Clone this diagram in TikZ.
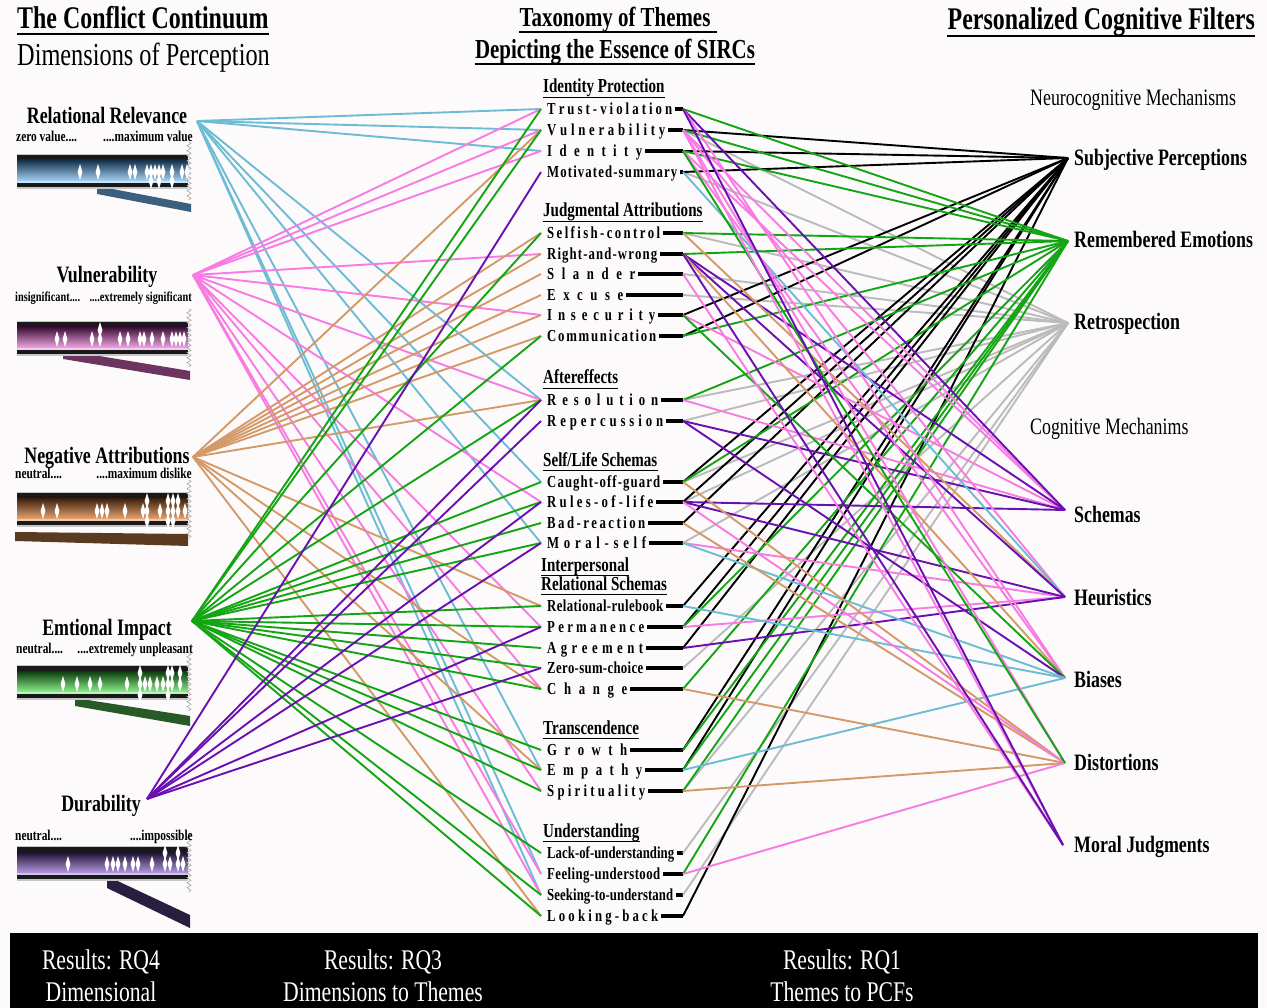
\documentclass[tikz,border=0pt]{standalone}
\usepackage{fontspec}
\setmainfont{Liberation Serif}
\newfontfamily\cond[FakeStretch=0.76]{Liberation Serif}
\usetikzlibrary{decorations.pathmorphing}
\definecolor{bg}{HTML}{FDFAFB}
\definecolor{cRR}{HTML}{6CBCD4}
\definecolor{cVU}{HTML}{F77BE3}
\definecolor{cNA}{HTML}{D39A68}
\definecolor{cEI}{HTML}{14A514}
\definecolor{cDU}{HTML}{6A10B0}
\definecolor{cGY}{HTML}{BBBBBB}
\definecolor{dRRc}{HTML}{14304A}\definecolor{lRRc}{HTML}{A6D2F4}\definecolor{sRRc}{HTML}{3B5F7C}
\definecolor{dVUc}{HTML}{3A0E34}\definecolor{lVUc}{HTML}{F2A6E6}\definecolor{sVUc}{HTML}{6B3560}
\definecolor{dNAc}{HTML}{3A1E0C}\definecolor{lNAc}{HTML}{E8A470}\definecolor{sNAc}{HTML}{5B3A22}
\definecolor{dEIc}{HTML}{0C3A0C}\definecolor{lEIc}{HTML}{8CF08C}\definecolor{sEIc}{HTML}{285A28}
\definecolor{dDUc}{HTML}{1C1030}\definecolor{lDUc}{HTML}{B49AE0}\definecolor{sDUc}{HTML}{2A1E40}
\makeatletter
\def\spr@ad#1{\ifx\relax#1\else#1\hfil\expandafter\spr@ad\fi}
\newcommand\spreadw[2]{\hbox to #1{\expandafter\spr@ad#2\relax\unskip}}
\makeatother
\newcommand\dmd[2]{\fill[white] (#1,#2-8) -- (#1+2.4,#2) -- (#1,#2+8) -- (#1-2.4,#2) -- cycle;}
\newcommand\gaugebar[3]{%
  \fill[gray!45] (17,#1) rectangle (188,#1+35);
  \fill[black!90] (17,#1+1) rectangle (188,#1+6);
  \shade[top color=#2, bottom color=#3] (17,#1+6) rectangle (188,#1+27);
  \fill[#3!60!white] (17,#1+27) rectangle (188,#1+29);
  \fill[black!90] (17,#1+29) rectangle (188,#1+33);
  \draw[zz] (189,#1-12) -- (189,#1+46);
}
\newcommand\hdr[4]{\node[hdr] (#1) at (#2,#3) {#4};
  \draw[line width=1.6pt] ([yshift=-4.5pt]#1.base west) -- ([yshift=-4.5pt]#1.base east);}
\tikzset{
  edge/.style={line width=1.9pt},
  eRR/.style={edge,draw=cRR}, eVU/.style={edge,draw=cVU}, eNA/.style={edge,draw=cNA},
  eEI/.style={edge,draw=cEI}, eDU/.style={edge,draw=cDU}, eGY/.style={edge,draw=cGY},
  eBK/.style={edge,draw=black},
  dashbar/.style={line width=3.2pt},
  zz/.style={draw=gray!70, line width=0.6pt, decorate, decoration={zigzag,segment length=5pt,amplitude=2pt}},
  theme/.style={font=\cond\bfseries\fontsize{16.8}{19}\selectfont, inner sep=0pt, anchor=base west},
  hdr/.style={font=\cond\bfseries\fontsize{19.8}{22}\selectfont, inner sep=0pt, anchor=base west},
  dimlab/.style={font=\cond\bfseries\fontsize{23.5}{26}\selectfont, inner sep=0pt, anchor=base},
  scl/.style={font=\cond\bfseries\fontsize{15}{17}\selectfont, inner sep=0pt},
  scls/.style={font=\cond\bfseries\fontsize{13.6}{15}\selectfont, inner sep=0pt},
  pcf/.style={font=\cond\bfseries\fontsize{23.5}{26}\selectfont, inner sep=0pt, anchor=base west},
  ttl/.style={font=\cond\bfseries\fontsize{31.5}{34}\selectfont, inner sep=0pt},
  ttlr/.style={font=\cond\fontsize{32}{34}\selectfont, inner sep=0pt},
  mid/.style={font=\cond\bfseries\fontsize{27.5}{30}\selectfont, inner sep=0pt, anchor=base},
  sub/.style={font=\cond\fontsize{23.5}{26}\selectfont, inner sep=0pt, anchor=base west},
  bot/.style={font=\cond\fontsize{28.5}{30}\selectfont, text=white, inner sep=0pt, anchor=base},
}
\begin{document}
\begin{tikzpicture}[x=1pt,y=-1pt]
\fill[bg] (0,0) rectangle (1267,1008);
\useasboundingbox (0,0) rectangle (1267,1008);
\fill[black] (10,933) rectangle (1258,1008);

% ---------- themes ----------
\foreach \id/\yy/\ww/\txt in {
 tv/109/125/Trust-violation, vu/130/118/Vulnerability, id/151/95/Identity, ms/172/130/Motivated-summary,
 sc/233/113/Selfish-control, rw/254/110/Right-and-wrong, sl/274/88/Slander, ex/295/76/Excuse,
 ins/315/108/Insecurity, co/336/109/Communication,
 re/400/111/Resolution, rp/421/116/Repercussion,
 cg/482/113/Caught-off-guard, rl/502/106/Rules-of-life, br/523/98/Bad-reaction, mo/543/99/Moral-self,
 rr/606/116/Relational-rulebook, pe/627/97/Permanence, ag/648/96/Agreement, zs/668/96/Zero-sum-choice,
 ch/689/80/Change, gr/750/80/Growth, em/770/95/Empathy, sp/791/98/Spirituality,
 lu/853/127/Lack-of-understanding, fu/874/113/Feeling-understood, su/895/126/Seeking-to-understand,
 lb/916/111/Looking-back}{
  \node[theme] (T\id) at (547,\yy+5.5) {\spreadw{\ww pt}{\txt}};
  \coordinate (L\id) at (541,\yy);
  \coordinate (R\id) at (683,\yy);
  \draw[dashbar] ([xshift=3pt,yshift=5.5pt]T\id.base east) -- (R\id);
}

% ---------- dimension points ----------
\coordinate (dRR) at (197,121);
\coordinate (dVU) at (193,275);
\coordinate (dNA) at (193,457);
\coordinate (dEI) at (192,621);
\coordinate (dDU) at (147,799);
% ---------- PCF points ----------
\coordinate (pSP) at (1068,158);
\coordinate (pRE) at (1068,241);
\coordinate (pRT) at (1068,323);
\coordinate (pSC) at (1065,510);
\coordinate (pHE) at (1065,597);
\coordinate (pBI) at (1065,678);
\coordinate (pDI) at (1065,763);
\coordinate (pMJ) at (1063,845);

% ---------- left connectors ----------
\foreach \t in {tv,vu,id,re,cg,mo,em,fu,su} \draw[eRR] (dRR) -- (L\t);
\foreach \t in {tv,vu,id,rw,ins,re,rl,pe,ch,sp,fu,su} \draw[eVU] (dVU) -- (L\t);
\foreach \t in {vu,sc,rw,sl,ex,ins,co,re,rr,ch,em,lb} \draw[eNA] (dNA) -- (L\t);
\foreach \t in {tv,vu,sc,co,re,cg,rl,br,mo,rr,pe,ag,zs,ch,gr,em,sp,lu,su,lb} \draw[eEI] (dEI) -- (L\t);
\foreach \t in {ms,re,rp,rl,mo,pe,zs} \draw[eDU] (dDU) -- (L\t);

% ---------- right connectors ----------
\foreach \t in {vu,ms,sc,sl,ex,re,rp,cg,rl,mo,zs,sp,lu,su} \draw[eGY] (R\t) -- (pRT);
\foreach \t in {vu,id,ms,ins,co,cg,rl,br,rr,pe,ag,gr,em,lb} \draw[eBK] (R\t) -- (pSP);
\foreach \t in {tv,vu,id,sc,rw,co,re,cg,pe,ch,gr,em,sp,fu} \draw[eEI] (R\t) -- (pRE);
\foreach \t in {vu,id,ins,re} \draw[eVU] (R\t) -- (pSC);
\foreach \t in {tv,rw,rp,rl} \draw[eDU] (R\t) -- (pSC);
\foreach \t in {vu,mo,pe} \draw[eVU] (R\t) -- (pHE);
\draw[eNA] (Rsc) -- (pHE);
\draw[eRR] (Rms) -- (pHE);
\foreach \t in {rw,ag,rl} \draw[eDU] (R\t) -- (pHE);
\foreach \t in {tv,id} \draw[eVU] (R\t) -- (pBI);
\draw[eNA] (Rrw) -- (pBI);
\draw[eEI] (Rins) -- (pBI);
\draw[eDU] (Rrp) -- (pBI);
\foreach \t in {mo,rr,em} \draw[eRR] (R\t) -- (pBI);
\foreach \t in {cg,br,sp,ch} \draw[eNA] (R\t) -- (pDI);
\foreach \t in {fu,vu,rl} \draw[eVU] (R\t) -- (pDI);
\draw[eEI] (Rid) -- (pDI);
\foreach \t in {vu,sl} \draw[eVU] (R\t) -- (pMJ);
\foreach \t in {tv,rw} \draw[eDU] (R\t) -- (pMJ);

% ---------- category headers ----------
\hdr{hIP}{543}{93}{Identity Protection}
\hdr{hJA}{543}{217}{Judgmental Attributions}
\hdr{hAE}{543}{384}{Aftereffects}
\hdr{hSL}{543}{466}{Self/Life Schemas}
\hdr{hIN}{541}{571}{Interpersonal}
\hdr{hRS}{541}{590}{Relational Schemas}
\hdr{hTR}{543}{734}{Transcendence}
\hdr{hUN}{543}{837}{Understanding}

% ---------- titles ----------
\node[ttl,anchor=base west] (tCC) at (17,29) {The Conflict Continuum};
\draw[line width=2.6pt] ([yshift=-5pt]tCC.base west) -- ([yshift=-5pt]tCC.base east);
\node[ttlr,anchor=base west] (tDP) at (17,66) {Dimensions of Perception};
\node[mid] (tTX) at (615,27) {Taxonomy of Themes};
\draw[line width=2pt] ([yshift=-5pt]tTX.base west) -- ([xshift=6pt,yshift=-5pt]tTX.base east);
\node[mid] (tDE) at (615,59) {Depicting the Essence of SIRCs};
\draw[line width=2pt] ([yshift=-5.5pt]tDE.base west) -- ([yshift=-5.5pt]tDE.base east);
\node[ttl,anchor=base east] (tPC) at (1255,30) {Personalized Cognitive Filters};
\draw[line width=2.6pt] ([yshift=-6pt]tPC.base west) -- ([yshift=-6pt]tPC.base east);
\node[sub] (tNM) at (1030,106) {Neurocognitive Mechanisms};
\node[sub] (tCM) at (1030,435) {Cognitive Mechanims};

% ---------- PCF labels ----------
\node[pcf] (lSP) at (1074,166) {Subjective Perceptions};
\node[pcf] (lRE) at (1074,248) {Remembered Emotions};
\node[pcf] (lRT) at (1074,330) {Retrospection};
\node[pcf] (lSC) at (1074,522) {Schemas};
\node[pcf] (lHE) at (1074,605) {Heuristics};
\node[pcf] (lBI) at (1074,687) {Biases};
\node[pcf] (lDI) at (1074,770) {Distortions};
\node[pcf] (lMJ) at (1074,852) {Moral Judgments};

% ---------- gauges ----------
% Relational Relevance
\fill[sRRc] (97,186) -- (191,204) -- (191,212) -- (97,194) -- cycle;
\gaugebar{154}{dRRc}{lRRc}
\foreach \xx in {80,98,130,135,147,151,155,159,163,172,182,187} \dmd{\xx}{172};
\foreach \xx in {151,159,172} \dmd{\xx}{181};
% Vulnerability
\fill[sVUc] (63,350) -- (190,371) -- (190,380) -- (63,359) -- cycle;
\gaugebar{321}{dVUc}{lVUc}
\foreach \xx in {57,65,92,100,120,128,140,144,152,163,172,176,180,184} \dmd{\xx}{339};
\dmd{100}{330}
% Negative Attributions
\fill[sNAc] (15,532) -- (188,534) -- (188,546) -- (15,541) -- cycle;
\gaugebar{492}{dNAc}{lNAc}
\foreach \xx in {43,57,97,102,107,125,143,147,160,168,173,178,185} \dmd{\xx}{511};
\foreach \xx in {147,168,173,178} \dmd{\xx}{501};
\foreach \xx in {147,168,173} \dmd{\xx}{521};
% Emotional Impact
\fill[sEIc] (75,698) -- (190,716) -- (190,726) -- (75,706) -- cycle;
\gaugebar{665}{dEIc}{lEIc}
\foreach \xx in {63,77,90,100,127,140,145,150,157,163,168,172,180} \dmd{\xx}{684};
\foreach \xx in {140,168,172,180} \dmd{\xx}{673};
\foreach \xx in {140,168} \dmd{\xx}{695};
% Durability
\fill[sDUc] (107,876) -- (190,915) -- (190,928) -- (107,888) -- cycle;
\gaugebar{846}{dDUc}{lDUc}
\foreach \xx in {68,107,113,118,125,133,138,152,165,170,178,183} \dmd{\xx}{864};
\foreach \xx in {165,178} \dmd{\xx}{853};

% ---------- dimension labels ----------
\node[dimlab] (nRR) at (107,124) {Relational Relevance};
\node[scl,anchor=base west] (sRR1) at (16,142) {zero value....};
\node[scl,anchor=base east] (sRR2) at (193,142) {....maximum value};
\node[dimlab] (nVU) at (107,283) {Vulnerability};
\node[scls,anchor=base west] (sVU1) at (15,302) {insignificant....};
\node[scls,anchor=base east] (sVU2) at (192,302) {....extremely significant};
\node[dimlab] (nNA) at (107,463) {Negative Attributions};
\node[scl,anchor=base west] (sNA1) at (15,478) {neutral....};
\node[scl,anchor=base east] (sNA2) at (192,478) {....maximum dislike};
\node[dimlab] (nEI) at (107,635) {Emtional Impact};
\node[scl,anchor=base west] (sEI1) at (16,653) {neutral....};
\node[scl,anchor=base east] (sEI2) at (193,653) {....extremely unpleasant};
\node[dimlab] (nDU) at (101,811) {Durability};
\node[scl,anchor=base west] (sDU1) at (15,840) {neutral....};
\node[scl,anchor=base east] (sDU2) at (193,840) {....impossible};

% ---------- bottom bar ----------
\node[bot] (b1a) at (101,969) {Results: RQ4};
\node[bot] (b1b) at (101,1001) {Dimensional};
\node[bot] (b2a) at (383,969) {Results: RQ3};
\node[bot] (b2b) at (383,1001) {Dimensions to Themes};
\node[bot] (b3a) at (842,969) {Results: RQ1};
\node[bot] (b3b) at (842,1001) {Themes to PCFs};
\end{tikzpicture}
\end{document}
